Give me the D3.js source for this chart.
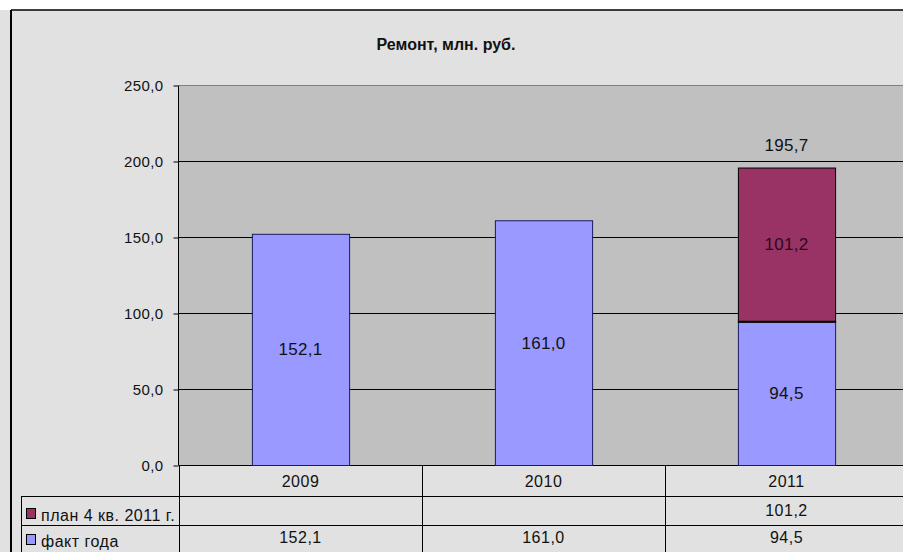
<!DOCTYPE html>
<html>
<head>
<meta charset="utf-8">
<script src="https://cdn.jsdelivr.net/npm/d3@7"></script>
<style>
body { margin: 0; background: #fff; }
text { font-family: "Liberation Sans", Arial, sans-serif; }
</style>
</head>
<body>
<script>
var categories = ["2009", "2010", "2011"];
var fact = [152.1, 161.0, 94.5];
var plan = [null, null, 101.2];
var yTicks = [0, 50, 100, 150, 200, 250];
var seriesNames = ["план 4 кв. 2011 г.", "факт года"];

var fmt = function (v) { return v.toFixed(1).replace(".", ","); };

var svg = d3.select("body")
    .append("svg")
    .attr("width", 903)
    .attr("height", 552)
    .style("display", "block");

// chart background
svg.append("rect").attr("x", 0).attr("y", 10).attr("width", 903).attr("height", 542).attr("fill", "#e1e1e1");
svg.append("line").attr("x1", 11).attr("x2", 903).attr("y1", 10).attr("y2", 10).attr("stroke", "#000").attr("stroke-width", 1.5);
svg.append("line").attr("x1", 11).attr("x2", 11).attr("y1", 10).attr("y2", 552).attr("stroke", "#000").attr("stroke-width", 2);

var left = 179, band = 243;
var x = d3.scaleBand()
    .domain(categories)
    .range([left, left + band * categories.length])
    .paddingInner(0).paddingOuter(0);

var y = d3.scaleLinear()
    .domain([0, 250])
    .range([465, 85]);

var plotRight = x.range()[1];

// plot area
svg.append("rect")
    .attr("x", left).attr("y", y(250))
    .attr("width", plotRight - left).attr("height", y(0) - y(250))
    .attr("fill", "#c0c0c0");

// gridlines
svg.append("g")
    .selectAll("line")
    .data(yTicks)
    .enter()
    .append("line")
    .attr("x1", left).attr("x2", plotRight)
    .attr("y1", function (d) { return y(d) + 0.5; })
    .attr("y2", function (d) { return y(d) + 0.5; })
    .attr("stroke", function (d) { return d == 250 ? "#808080" : "#000"; })
    .attr("stroke-width", 1);

// y axis
var yAxis = d3.axisLeft(y)
    .tickValues(yTicks)
    .tickSize(5)
    .tickPadding(10)
    .tickFormat(fmt);

var ga = svg.append("g")
    .attr("transform", "translate(" + (left - 0.5) + ",0.5)")
    .call(yAxis);
ga.selectAll("text")
    .style("font-size", "15px")
    .style("letter-spacing", "0.4px")
    .attr("fill", "#111");
ga.selectAll("line").attr("stroke", "#000");
ga.select(".domain").attr("stroke", "#000").attr("d", "M0," + y(250) + "V" + y(0));

// bars
var barW = x.bandwidth() * 0.4;
var bx = function (i) { return x(categories[i]) + (x.bandwidth() - barW) / 2; };

svg.append("g")
    .selectAll("rect")
    .data(fact)
    .enter()
    .append("rect")
    .attr("x", function (d, i) { return bx(i) + 0.5; })
    .attr("y", function (d) { return y(d) + 0.5; })
    .attr("width", barW)
    .attr("height", function (d) { return y(0) - y(d); })
    .attr("fill", "#9999ff")
    .attr("stroke", "#1a1a60")
    .attr("stroke-width", 1);

svg.append("g")
    .selectAll("rect")
    .data(plan)
    .enter()
    .filter(function (d) { return d != null; })
    .append("rect")
    .attr("x", function (d) { return bx(plan.indexOf(d)) + 0.5; })
    .attr("y", function (d) { var i = plan.indexOf(d); return y(fact[i] + d) + 0.5; })
    .attr("width", barW)
    .attr("height", function (d) { return y(0) - y(d); })
    .attr("fill", "#993366")
    .attr("stroke", "#000")
    .attr("stroke-width", 1);

// joint line in stacked bar
plan.forEach(function (d, i) {
    if (d == null) return;
    svg.append("line")
        .attr("x1", bx(i)).attr("x2", bx(i) + barW + 1)
        .attr("y1", y(fact[i]) + 0.5).attr("y2", y(fact[i]) + 0.5)
        .attr("stroke", "#000").attr("stroke-width", 2);
});

// bar labels
var labels = svg.append("g").style("font-size", "17px").style("letter-spacing", "0.3px").attr("text-anchor", "middle");
fact.forEach(function (d, i) {
    var cx = x(categories[i]) + x.bandwidth() / 2;
    labels.append("text").attr("x", cx).attr("y", (y(0) + y(d)) / 2 + 6).attr("fill", "#111").text(fmt(d));
    if (plan[i] != null) {
        labels.append("text").attr("x", cx).attr("y", (y(d) + y(d + plan[i])) / 2 + 6).attr("fill", "#2a0a18").text(fmt(plan[i]));
        labels.append("text").attr("x", cx).attr("y", y(d + plan[i]) - 17).attr("fill", "#111").text(fmt(d + plan[i]));
    }
});

// title
svg.append("text")
    .attr("x", 446).attr("y", 50)
    .attr("text-anchor", "middle")
    .style("font-size", "16px")
    .style("font-weight", "bold")
    .attr("fill", "#111")
    .text("Ремонт, млн. руб.");

// data table
var t = svg.append("g").style("font-size", "16px").style("letter-spacing", "0.5px").attr("fill", "#111");
var rowY = [465, 496, 525];
var tableLeft = 21;
function hline(x1, x2, yy) {
    t.append("line").attr("x1", x1).attr("x2", x2).attr("y1", yy + 0.5).attr("y2", yy + 0.5).attr("stroke", "#000");
}
function vline(xx, y1, y2) {
    t.append("line").attr("x1", xx + 0.5).attr("x2", xx + 0.5).attr("y1", y1).attr("y2", y2).attr("stroke", "#000");
}
hline(tableLeft, plotRight, rowY[1]);
hline(tableLeft, plotRight, rowY[2]);
vline(tableLeft, rowY[1], 552);
categories.forEach(function (c) { vline(x(c), rowY[0], 552); });

categories.forEach(function (c, i) {
    var cx = x(c) + x.bandwidth() / 2;
    t.append("text").attr("x", cx).attr("y", rowY[0] + 22).attr("text-anchor", "middle").text(c);
    if (plan[i] != null)
        t.append("text").attr("x", cx).attr("y", rowY[1] + 20).attr("text-anchor", "middle").text(fmt(plan[i]));
    t.append("text").attr("x", cx).attr("y", rowY[2] + 18).attr("text-anchor", "middle").text(fmt(fact[i]));
});

var legendColors = ["#993366", "#9999ff"];
var legendText = [rowY[1] + 25, rowY[2] + 22];
seriesNames.forEach(function (n, i) {
    var ry = rowY[1 + i];
    t.append("rect").attr("x", 26.5).attr("y", legendText[i] - 12.5).attr("width", 9).attr("height", 10)
        .attr("fill", legendColors[i]).attr("stroke", "#000");
    t.append("text").attr("x", 41).attr("y", legendText[i]).text(n);
});
</script>
</body>
</html>
